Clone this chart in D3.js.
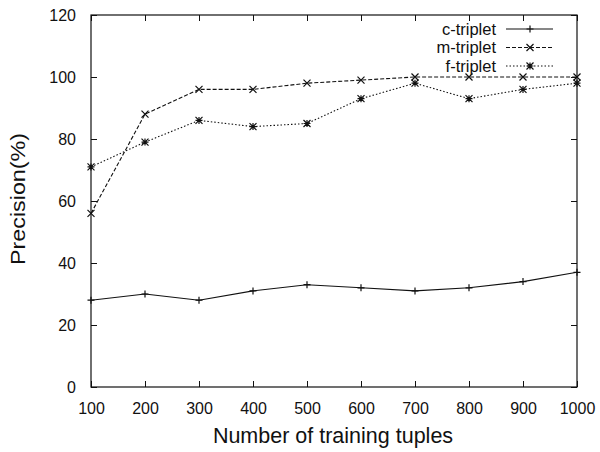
<!DOCTYPE html>
<html>
<head>
<meta charset="utf-8">
<script src="https://cdn.jsdelivr.net/npm/d3@7"></script>
<style>
  html, body { margin: 0; padding: 0; background: #fff; }
  svg { display: block; font-family: "Liberation Sans", Arial, Helvetica, sans-serif; }
</style>
</head>
<body>
<svg id="chart" width="600" height="452"></svg>
<script>
// Training set sizes on the x axis
const tuples = [100, 200, 300, 400, 500, 600, 700, 800, 900, 1000];

// Precision (%) for each method
const cTriplet = [28, 30, 28, 31, 33, 32, 31, 32, 34, 37];
const mTriplet = [56, 88, 96, 96, 98, 99, 100, 100, 100, 100];
const fTriplet = [71, 79, 86, 84, 85, 93, 98, 93, 96, 98];

const seriesNames = ["c-triplet", "m-triplet", "f-triplet"];
const xTicks = [100, 200, 300, 400, 500, 600, 700, 800, 900, 1000];
const yTicks = [0, 20, 40, 60, 80, 100, 120];

const series = [
  { name: seriesNames[0], values: cTriplet, dash: null, marker: "plus" },
  { name: seriesNames[1], values: mTriplet, dash: "4,2", marker: "cross" },
  { name: seriesNames[2], values: fTriplet, dash: "1.5,2", marker: "star" }
];

const svg = d3.select("#chart");
const m = { left: 91, right: 577, top: 15, bottom: 387 };

const x = d3.scaleLinear().domain([100, 1000]).range([m.left, m.right]);
const y = d3.scaleLinear().domain([0, 120]).range([m.bottom, m.top]);

const ink = "#111";

// Frame with inward ticks on all four sides
const axisBottom = d3.axisBottom(x).tickValues(xTicks).tickSizeInner(-6).tickSizeOuter(0).tickPadding(16).tickFormat(d3.format("d"));
const axisTop = d3.axisTop(x).tickValues(xTicks).tickSizeInner(-6).tickSizeOuter(0).tickFormat("");
const axisLeft = d3.axisLeft(y).tickValues(yTicks).tickSizeInner(-6).tickSizeOuter(0).tickPadding(15).tickFormat(d3.format("d"));
const axisRight = d3.axisRight(y).tickValues(yTicks).tickSizeInner(-6).tickSizeOuter(0).tickFormat("");

function styleAxis(g) {
  g.select(".domain").remove();
  g.selectAll(".tick line").attr("stroke", ink).attr("stroke-width", 1);
  g.selectAll(".tick text").attr("fill", ink).attr("font-size", 16).attr("font-family", "Liberation Sans, Arial, sans-serif");
}

svg.append("g").attr("transform", `translate(0,${m.bottom})`).call(axisBottom).call(styleAxis);
svg.append("g").attr("transform", `translate(0,${m.top})`).call(axisTop).call(styleAxis);
svg.append("g").attr("transform", `translate(${m.left},0)`).call(axisLeft).call(styleAxis);
svg.append("g").attr("transform", `translate(${m.right},0)`).call(axisRight).call(styleAxis);

svg.append("rect")
  .attr("x", m.left).attr("y", m.top)
  .attr("width", m.right - m.left).attr("height", m.bottom - m.top)
  .attr("fill", "none").attr("stroke", ink).attr("stroke-width", 1.2);

// Axis titles
svg.append("text")
  .attr("x", 333).attr("y", 443)
  .attr("text-anchor", "middle").attr("font-size", 21.5).attr("fill", ink)
  .text("Number of training tuples");

svg.append("text")
  .attr("transform", `translate(25,199) rotate(-90)`)
  .attr("text-anchor", "middle").attr("font-size", 21).attr("fill", ink)
  .attr("textLength", 132).attr("lengthAdjust", "spacingAndGlyphs")
  .text("Precision(%)");

// Point markers
function markerPath(type, cx, cy) {
  const s = 3.5;
  const p = d3.path();
  if (type === "plus" || type === "star") {
    p.moveTo(cx - s, cy); p.lineTo(cx + s, cy);
    p.moveTo(cx, cy - s); p.lineTo(cx, cy + s);
  }
  if (type === "cross" || type === "star") {
    p.moveTo(cx - s, cy - s); p.lineTo(cx + s, cy + s);
    p.moveTo(cx - s, cy + s); p.lineTo(cx + s, cy - s);
  }
  return p.toString();
}

const line = d3.line().x((d, i) => x(tuples[i])).y(d => y(d));

series.forEach(s => {
  svg.append("path")
    .datum(s.values)
    .attr("d", line)
    .attr("fill", "none")
    .attr("stroke", ink)
    .attr("stroke-width", 1.1)
    .attr("stroke-dasharray", s.dash);
  svg.append("g").selectAll("path")
    .data(s.values)
    .join("path")
    .attr("d", (d, i) => markerPath(s.marker, x(tuples[i]), y(d)))
    .attr("stroke", ink)
    .attr("stroke-width", 1.2)
    .attr("fill", "none");
});

// Legend in the upper right corner
const legend = svg.append("g");
series.forEach((s, i) => {
  const ly = 29 + i * 18.5;
  legend.append("text")
    .attr("x", 496).attr("y", ly).attr("dy", "0.35em")
    .attr("text-anchor", "end").attr("font-size", 16.5).attr("fill", ink)
    .text(s.name);
  legend.append("line")
    .attr("x1", 506).attr("x2", 553).attr("y1", ly).attr("y2", ly)
    .attr("stroke", ink).attr("stroke-width", 1.1)
    .attr("stroke-dasharray", s.dash);
  legend.append("path")
    .attr("d", markerPath(s.marker, 530, ly))
    .attr("stroke", ink).attr("stroke-width", 1.2).attr("fill", "none");
});
</script>
</body>
</html>
